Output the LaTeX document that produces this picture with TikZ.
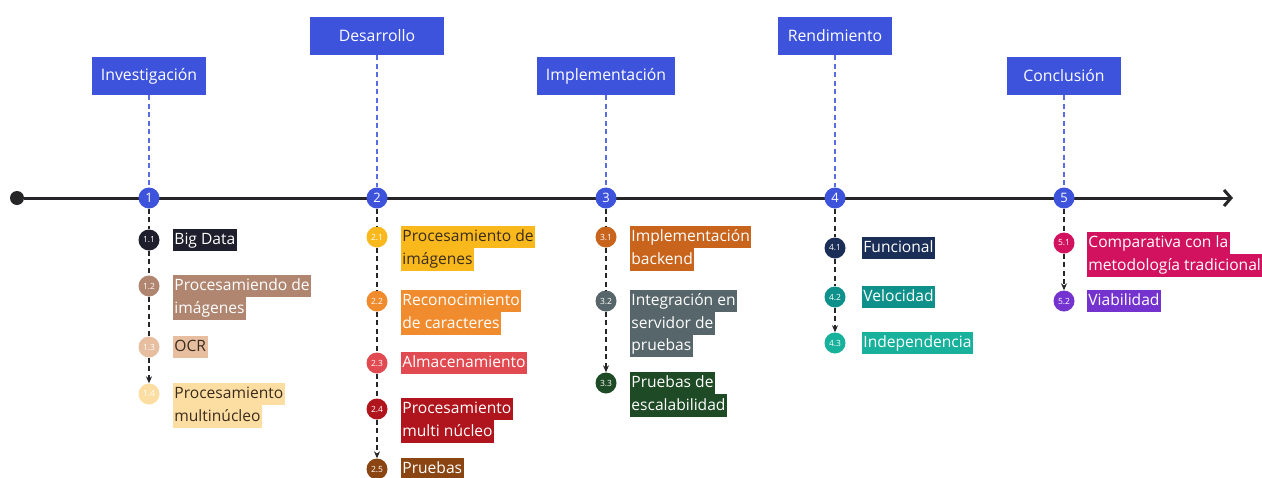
\documentclass[tikz,border=0pt]{standalone}
\usepackage{fontspec}
\setmainfont{Open Sans}
\usetikzlibrary{arrows.meta, positioning}

\definecolor{tlblue}{RGB}{61,83,219}
\definecolor{tldark}{RGB}{38,38,40}
\definecolor{tltext}{RGB}{58,44,30}
\definecolor{c11}{RGB}{30,30,44}
\definecolor{c12}{RGB}{176,134,113}
\definecolor{c13}{RGB}{232,190,160}
\definecolor{c14}{RGB}{253,222,162}
\definecolor{c21}{RGB}{249,184,27}
\definecolor{c22}{RGB}{240,140,46}
\definecolor{c23}{RGB}{224,74,80}
\definecolor{c24}{RGB}{176,20,28}
\definecolor{c25}{RGB}{138,69,18}
\definecolor{c31}{RGB}{200,100,28}
\definecolor{c32}{RGB}{87,102,106}
\definecolor{c33}{RGB}{30,74,37}
\definecolor{c41}{RGB}{26,46,87}
\definecolor{c42}{RGB}{14,145,138}
\definecolor{c43}{RGB}{23,177,156}
\definecolor{c51}{RGB}{210,18,94}
\definecolor{c52}{RGB}{116,51,207}

% highlighted line of text
\newcommand{\hl}[2]{{\setlength{\fboxsep}{0pt}\colorbox{#1}{\rule[-6.5pt]{0pt}{22.5pt}\kern1.5pt #2\kern1.5pt}}}

\begin{document}
\begin{tikzpicture}[
    x=1pt, y=-1pt,
    phase/.style={rectangle, fill=tlblue, text=white, minimum width=114pt, minimum height=38pt, inner xsep=9pt, font=\fontsize{15.8}{18}\selectfont},
    mile/.style={circle, fill=tlblue, text=white, minimum size=21pt, inner sep=0pt, font=\fontsize{13}{13}\selectfont},
    sub/.style={circle, minimum size=21pt, inner sep=0pt, text=white, font=\fontsize{8.5}{9}\selectfont},
    lbl/.style={inner sep=0pt, align=left, anchor=north west, text=white, font=\fontsize{15.6}{22.5}\selectfont},
    phaselink/.style={draw=tlblue!85, line width=1.1pt, dash pattern=on 5pt off 3.5pt},
    sublink/.style={draw=tldark, line width=1.2pt, dash pattern=on 5pt off 3.5pt},
    sublast/.style={sublink, -{Stealth[length=7pt, width=6pt]}},
]
\clip (0,0) rectangle (1262,477);
\fill[white] (0,0) rectangle (1262,477);

% timeline
\node[circle, fill=tldark, minimum size=14pt, inner sep=0pt] (tstart) at (17,198) {};
\coordinate (tend) at (1233,198);
\draw[line width=3pt, tldark, -{Straight Barb[length=7pt, width=16pt]}] (tstart) -- (tend);

\node[mile] (m1) at (149,198) {1};
\node[mile] (m2) at (377,198) {2};
\node[mile] (m3) at (606,198) {3};
\node[mile] (m4) at (835,198) {4};
\node[mile] (m5) at (1064,198) {5};

% phases
\node[phase] (h1) at (149,76) {Investigación};
\node[phase, minimum width=134pt] (h2) at (377,36) {Desarrollo};
\node[phase] (h3) at (606,76) {Implementación};
\node[phase] (h4) at (835,36) {Rendimiento};
\node[phase] (h5) at (1064,76) {Conclusión};

\draw[phaselink] (h1) -- (m1);
\draw[phaselink] (h2) -- (m2);
\draw[phaselink] (h3) -- (m3);
\draw[phaselink] (h4) -- (m4);
\draw[phaselink] (h5) -- (m5);

% 1 Investigacion
\node[sub, fill=c11] (s11) at (149,240) {1.1};
\node[sub, fill=c12] (s12) at (149,286) {1.2};
\node[sub, fill=c13] (s13) at (149,347) {1.3};
\node[sub, fill=c14] (s14) at (149,394) {1.4};
\node[lbl] (l11) at ([xshift=13pt, yshift=11.25pt]s11.east) {\hl{c11}{Big Data}};
\node[lbl] (l12) at ([xshift=13pt, yshift=11.25pt]s12.east) {\hl{c12}{Procesamiendo de}\\\hl{c12}{imágenes}};
\node[lbl, text=tltext] (l13) at ([xshift=13pt, yshift=11.25pt]s13.east) {\hl{c13}{OCR}};
\node[lbl, text=tltext] (l14) at ([xshift=13pt, yshift=11.25pt]s14.east) {\hl{c14}{Procesamiento}\\\hl{c14}{multinúcleo}};
\draw[sublink] (m1) -- (s11);
\draw[sublink] (s11) -- (s12);
\draw[sublink] (s12) -- (s13);
\draw[sublast] (s13) -- (s14);

% 2 Desarrollo
\node[sub, fill=c21] (s21) at (377,237) {2.1};
\node[sub, fill=c22] (s22) at (377,301) {2.2};
\node[sub, fill=c23] (s23) at (377,363) {2.3};
\node[sub, fill=c24] (s24) at (377,409) {2.4};
\node[sub, fill=c25] (s25) at (377,469) {2.5};
\node[lbl, text=tltext] (l21) at ([xshift=13pt, yshift=11.25pt]s21.east) {\hl{c21}{Procesamiento de}\\\hl{c21}{imágenes}};
\node[lbl] (l22) at ([xshift=13pt, yshift=11.25pt]s22.east) {\hl{c22}{Reconocimiento}\\\hl{c22}{de caracteres}};
\node[lbl] (l23) at ([xshift=13pt, yshift=11.25pt]s23.east) {\hl{c23}{Almacenamiento}};
\node[lbl] (l24) at ([xshift=13pt, yshift=11.25pt]s24.east) {\hl{c24}{Procesamiento}\\\hl{c24}{multi núcleo}};
\node[lbl] (l25) at ([xshift=13pt, yshift=11.25pt]s25.east) {\hl{c25}{Pruebas}};
\draw[sublink] (m2) -- (s21);
\draw[sublink] (s21) -- (s22);
\draw[sublink] (s22) -- (s23);
\draw[sublink] (s23) -- (s24);
\draw[sublast] (s24) -- (s25);

% 3 Implementacion
\node[sub, fill=c31] (s31) at (606,237) {3.1};
\node[sub, fill=c32] (s32) at (606,301) {3.2};
\node[sub, fill=c33] (s33) at (606,383) {3.3};
\node[lbl] (l31) at ([xshift=13pt, yshift=11.25pt]s31.east) {\hl{c31}{Implementación}\\\hl{c31}{backend}};
\node[lbl] (l32) at ([xshift=13pt, yshift=11.25pt]s32.east) {\hl{c32}{Integración en}\\\hl{c32}{servidor de}\\\hl{c32}{pruebas}};
\node[lbl] (l33) at ([xshift=13pt, yshift=11.25pt]s33.east) {\hl{c33}{Pruebas de}\\\hl{c33}{escalabilidad}};
\draw[sublink] (m3) -- (s31);
\draw[sublink] (s31) -- (s32);
\draw[sublast] (s32) -- (s33);

% 4 Rendimiento
\node[sub, fill=c41] (s41) at (835,248) {4.1};
\node[sub, fill=c42] (s42) at (835,297) {4.2};
\node[sub, fill=c43] (s43) at (835,343) {4.3};
\node[lbl] (l41) at ([xshift=16pt, yshift=11.25pt]s41.east) {\hl{c41}{Funcional}};
\node[lbl] (l42) at ([xshift=16pt, yshift=11.25pt]s42.east) {\hl{c42}{Velocidad}};
\node[lbl] (l43) at ([xshift=16pt, yshift=11.25pt]s43.east) {\hl{c43}{Independencia}};
\draw[sublink] (m4) -- (s41);
\draw[sublink] (s41) -- (s42);
\draw[sublast] (s42) -- (s43);

% 5 Conclusion
\node[sub, fill=c51] (s51) at (1064,243) {5.1};
\node[sub, fill=c52] (s52) at (1064,301) {5.2};
\node[lbl] (l51) at ([xshift=12pt, yshift=11.25pt]s51.east) {\hl{c51}{Comparativa con la}\\\hl{c51}{metodología tradicional}};
\node[lbl] (l52) at ([xshift=12pt, yshift=11.25pt]s52.east) {\hl{c52}{Viabilidad}};
\draw[sublink] (m5) -- (s51);
\draw[sublast] (s51) -- (s52);

\end{tikzpicture}
\end{document}
